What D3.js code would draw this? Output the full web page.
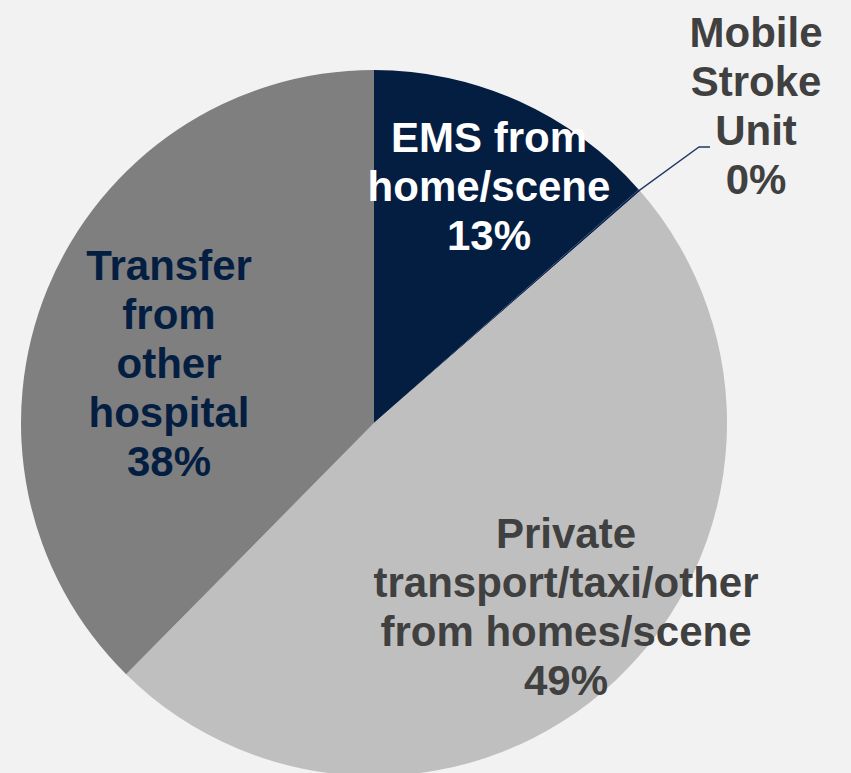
<!DOCTYPE html>
<html>
<head>
<meta charset="utf-8">
<script src="https://cdn.jsdelivr.net/npm/d3@7/dist/d3.min.js"></script>
<style>
  html, body { margin: 0; padding: 0; background: #f2f2f2; }
  svg { display: block; }
</style>
</head>
<body>
<div id="chart_div"></div>
<script>
// data
var categories = ["EMS from home/scene", "Mobile Stroke Unit", "Private transport/taxi/other from homes/scene", "Transfer from other hospital"];
var values = [13.49, 0.1, 48.8, 37.61];
var labelLines = [
  ["EMS from", "home/scene"],
  ["Mobile", "Stroke", "Unit"],
  ["Private", "transport/taxi/other", "from homes/scene"],
  ["Transfer", "from", "other", "hospital"]
];

var fills = ["#041e42", "#0a2550", "#bfbfbf", "#7f7f7f"];
var textColors = ["#ffffff", "#404040", "#404040", "#041e42"];
// anchor for each label block (x, first baseline)
var labelAnchor = [[489, 152], [756, 47], [566, 548], [169, 280]];

var width = 851, height = 773;
var cx = 374, cy = 423, radius = 353;
var lineH = 49;

var svg = d3.select("#chart_div").append("svg")
    .attr("width", width)
    .attr("height", height);

svg.append("rect")
    .attr("width", width)
    .attr("height", height)
    .attr("fill", "#f2f2f2");

var g = svg.append("g")
    .attr("transform", "translate(" + cx + "," + cy + ")");

var data = categories.map(function(c, i) { return {name: c, value: values[i], i: i}; });

var pie = d3.pie()
    .sort(null)
    .value(function(d) { return d.value; });

var arc = d3.arc()
    .innerRadius(0)
    .outerRadius(radius);

var arcs = pie(data);

g.selectAll("path.slice")
    .data(arcs)
    .enter().append("path")
    .attr("class", "slice")
    .attr("d", arc)
    .attr("fill", function(d) { return fills[d.data.i]; });

// leader line for the tiny slice
var mobile = arcs[1];
var mid = (mobile.startAngle + mobile.endAngle) / 2;
var p0 = [Math.sin(mid) * (radius - 1) + cx, -Math.cos(mid) * (radius - 1) + cy];
svg.append("polyline")
    .attr("points", [p0, [699, 147], [710, 147]].map(function(p) { return p.join(","); }).join(" "))
    .attr("fill", "none")
    .attr("stroke", "#1f3864")
    .attr("stroke-width", 1.3);

// labels
arcs.forEach(function(d) {
  var i = d.data.i;
  var lines = labelLines[i].concat([Math.round(d.data.value) + "%"]);
  var t = svg.append("text")
      .attr("x", labelAnchor[i][0])
      .attr("y", labelAnchor[i][1])
      .attr("text-anchor", "middle")
      .attr("font-family", "'Liberation Sans', Arial, sans-serif")
      .attr("font-weight", "bold")
      .attr("font-size", "42px")
      .attr("fill", textColors[i]);
  lines.forEach(function(l, k) {
    t.append("tspan")
      .attr("x", labelAnchor[i][0])
      .attr("y", labelAnchor[i][1] + k * lineH)
      .text(l);
  });
});
</script>
</body>
</html>
